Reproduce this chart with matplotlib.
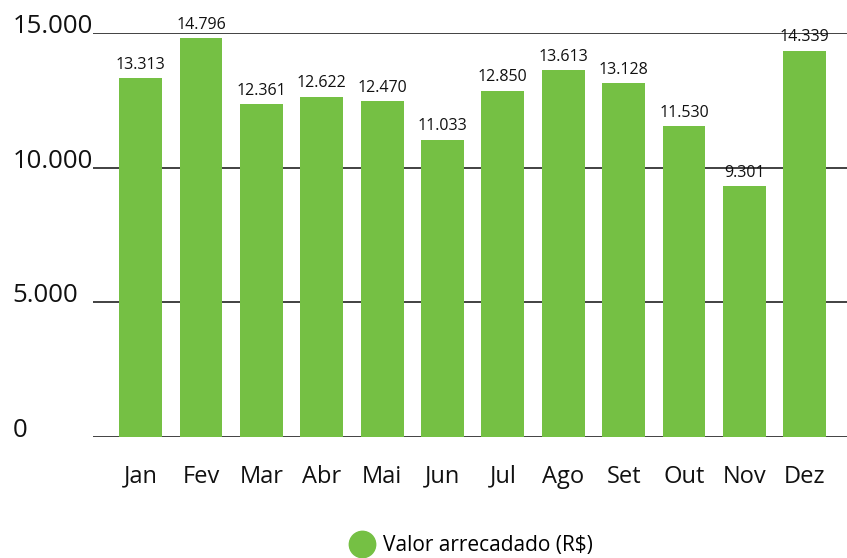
import numpy as np
import matplotlib
matplotlib.use('Agg')
import matplotlib.pyplot as plt
from matplotlib.lines import Line2D

plt.rcParams['font.family'] = ['Open Sans', 'DejaVu Sans']

meses = ['Jan', 'Fev', 'Mar', 'Abr', 'Mai', 'Jun', 'Jul', 'Ago', 'Set', 'Out', 'Nov', 'Dez']
valores = [13313, 14796, 12361, 12622, 12470, 11033, 12850, 13613, 13128, 11530, 9301, 14339]
yticks = [0, 5000, 10000, 15000]
ytick_labels = ['0', '5.000', '10.000', '15.000']
serie = 'Valor arrecadado (R$)'

verde = '#75c044'

fig = plt.figure(figsize=(8.47, 5.58), dpi=100)
W, H = 847, 558
ax = fig.add_axes([93 / W, 1 - 437 / H, (847 - 93) / W, (437 - 33) / H])

x = np.arange(len(meses))
bars = ax.bar(x, valores, width=0.71, color=verde, zorder=3)

# linhas de grade
for t in yticks:
    ax.axhline(t, color='#333333', lw=1.3, zorder=2)

ax.set_xlim(-0.79, 11.70)
ax.set_ylim(0, 15000)
for s in ax.spines.values():
    s.set_visible(False)
ax.set_yticks([])
ax.set_xticks(x)
ax.set_xticklabels(meses, fontsize=17, color='#111111')
ax.tick_params(axis='x', length=0, pad=20)

# rótulos do eixo y sobre as linhas
for t, lab in zip(yticks, ytick_labels):
    ax.annotate(lab, xy=(0, t), xycoords=('figure fraction', 'data'),
                xytext=(9, 0), textcoords='offset points',
                ha='left', va='baseline', fontsize=18.5, color='#111111',
                annotation_clip=False)

# valores sobre as barras
for xi, v in zip(x, valores):
    ax.annotate(f'{v:,}'.replace(',', '.'), xy=(xi, v), xytext=(0, 4),
                textcoords='offset points', ha='center', va='bottom',
                fontsize=11.5, color='#111111', annotation_clip=False, zorder=4)

handle = Line2D([], [], marker='o', color=verde, linestyle='none', markersize=19)
fig.legend([handle], [serie], loc='lower center', bbox_to_anchor=(0.558, -0.03),
           frameon=False, fontsize=15, handletextpad=0.5, handlelength=1.0)

fig.savefig('out.png', dpi=100)
